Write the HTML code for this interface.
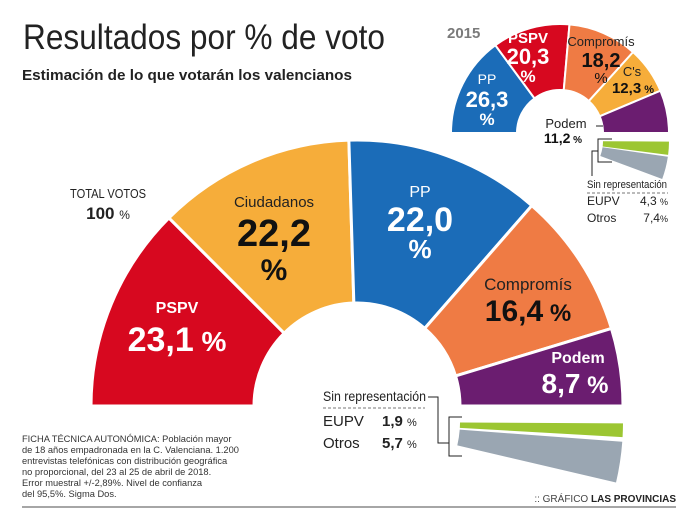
<!DOCTYPE html>
<html><head><meta charset="utf-8"><style>
html,body{margin:0;padding:0;background:#fff;width:679px;height:519px;overflow:hidden}
svg{display:block;font-family:"Liberation Sans",sans-serif}
</style></head><body>
<svg id="chart" width="679" height="519" viewBox="0 0 679 519">
<text x="23" y="49" font-size="35" fill="#222" textLength="362" lengthAdjust="spacingAndGlyphs">Resultados por % de voto</text>
<text x="22" y="80" font-size="15" font-weight="bold" fill="#222" textLength="330" lengthAdjust="spacingAndGlyphs">Estimación de lo que votarán los valencianos</text>
<g id="main"></g>
<g id="small"></g>
<g text-anchor="middle" fill="#222">
<text x="108" y="198" font-size="13" textLength="76" lengthAdjust="spacingAndGlyphs">TOTAL VOTOS</text>
<text x="108" y="219" font-size="17" font-weight="bold">100 <tspan font-size="12" font-weight="normal">%</tspan></text>
</g>
<g fill="#222" font-size="14">
<text x="323" y="401" textLength="103" lengthAdjust="spacingAndGlyphs">Sin representación</text>
<line x1="323" y1="408" x2="425" y2="408" stroke="#777" stroke-dasharray="3,2"/>
<text x="323" y="426" font-size="15">EUPV</text>
<text x="382" y="426" font-size="15" font-weight="bold">1,9 <tspan font-size="11" font-weight="normal">%</tspan></text>
<text x="323" y="448" font-size="15">Otros</text>
<text x="382" y="448" font-size="15" font-weight="bold">5,7 <tspan font-size="11" font-weight="normal">%</tspan></text>
<polyline points="428,397 438,397 438,443 449,443" fill="none" stroke="#222" stroke-width="1"/>
<polyline points="462,417 449,417 449,456 462,456" fill="none" stroke="#222" stroke-width="1"/>
</g>
<g fill="#222" font-size="11">
<text x="587" y="188" textLength="80" lengthAdjust="spacingAndGlyphs">Sin representación</text>
<line x1="587" y1="193" x2="668" y2="193" stroke="#777" stroke-dasharray="3,2"/>
<text x="587" y="205" font-size="12">EUPV</text>
<text x="668" y="205" font-size="12" text-anchor="end">4,3 <tspan font-size="9">%</tspan></text>
<text x="587" y="222" font-size="12">Otros</text>
<text x="668" y="222" font-size="12" text-anchor="end">7,4<tspan font-size="9">%</tspan></text>
<polyline points="592,176 592,151 598,151" fill="none" stroke="#222"/>
<polyline points="612,139 598,139 598,162 612,162" fill="none" stroke="#222"/>
<line x1="596" y1="126" x2="603" y2="126" stroke="#222"/>
</g>
<text x="447" y="38" font-size="15" font-weight="bold" fill="#7a7a7a">2015</text>
<g font-size="9.3" fill="#333">
<text x="22" y="442">FICHA TÉCNICA AUTONÓMICA: Población mayor</text>
<text x="22" y="453">de 18 años empadronada en la C. Valenciana. 1.200</text>
<text x="22" y="464">entrevistas telefónicas con distribución geográfica</text>
<text x="22" y="475">no proporcional, del 23 al 25 de abril de 2018.</text>
<text x="22" y="486">Error muestral +/-2,89%. Nivel de confianza</text>
<text x="22" y="497">del 95,5%. Sigma Dos.</text>
</g>
<text x="676" y="502" font-size="10" fill="#444" text-anchor="end">:: GRÁFICO <tspan font-weight="bold" fill="#222">LAS PROVINCIAS</tspan></text>
<line x1="22" y1="507" x2="676" y2="507" stroke="#888" stroke-width="1.5"/>
</svg>
<script>
const mainParties = ['PSPV','Ciudadanos','PP','Compromís','Podem'];
const mainValues = [23.1, 22.2, 22.0, 16.4, 8.7];
const mainColors = ['#d7081f','#f6ad3a','#1b6cb8','#ef7b44','#6b1d70'];
const mainRest = ['EUPV','Otros'];
const mainRestValues = [1.9, 5.7];
const smallParties = ['PP','PSPV','Compromís',"C's",'Podem'];
const smallValues = [26.3, 20.3, 18.2, 12.3, 11.2];
const smallColors = ['#1b6cb8','#d7081f','#ef7b44','#f6ad3a','#6b1d70'];
const smallRest = ['EUPV','Otros'];
const smallRestValues = [4.3, 7.4];

const NS='http://www.w3.org/2000/svg';
function arcPath(cx,cy,r0,r1,a0,a1,below){
  // angles in degrees; top: measured from left horizontal clockwise; below: from right horizontal downward
  const pt=(r,a)=>{const t=a*Math.PI/180;return below?[cx+r*Math.cos(t),cy+r*Math.sin(t)]:[cx-r*Math.cos(t),cy-r*Math.sin(t)];};
  const p1=pt(r1,a0),p2=pt(r1,a1),p3=pt(r0,a1),p4=pt(r0,a0);
  const sw1=below?1:1, sw0=below?0:0;
  return `M${p1[0]},${p1[1]} A${r1},${r1} 0 0 ${sw1} ${p2[0]},${p2[1]} L${p3[0]},${p3[1]} A${r0},${r0} 0 0 ${sw0} ${p4[0]},${p4[1]} Z`;
}
function drawDonut(gid,cx,cy,r0,r1,vals,cols,names,rest,restCols,dy,sw){
  const g=document.getElementById(gid);
  const total=vals.reduce((a,b)=>a+b,0);
  const k=180/total;
  let a=0;
  vals.forEach((v,i)=>{
    const p=document.createElementNS(NS,'path');
    p.setAttribute('d',arcPath(cx,cy,r0,r1,a,a+v*k,false));
    p.setAttribute('fill',cols[i]);p.setAttribute('stroke','#fff');p.setAttribute('stroke-width',sw);
    
    
    g.appendChild(p);a+=v*k;
  });
  let b=0.3;
  rest.forEach((v,i)=>{
    const p=document.createElementNS(NS,'path');
    p.setAttribute('d',arcPath(cx,cy+dy,r0,r1,b,b+v*k*0.8,true));
    p.setAttribute('fill',restCols[i]);
    
    
    g.appendChild(p);b+=v*k*0.8+1;
  });
}
drawDonut('main',357,406,103,266,mainValues,mainColors,mainParties,mainRestValues,['#9cc632','#9aa6b2'],16,3);
drawDonut('small',560,133,43,109,smallValues,smallColors,smallParties,smallRestValues,['#9cc632','#9aa6b2'],8,2);

function label(x,y,txt,size,fill,bold,name,pct,pctSize){
  const t=document.createElementNS(NS,'text');
  t.setAttribute('x',x);t.setAttribute('y',y);t.setAttribute('text-anchor','middle');
  t.setAttribute('font-size',size);t.setAttribute('fill',fill);
  if(bold)t.setAttribute('font-weight','bold');
  t.textContent=txt;
  if(pct){const s=document.createElementNS(NS,'tspan');s.setAttribute('font-size',pctSize);s.textContent=' %';t.appendChild(s);}
  
  
  document.getElementById('chart').appendChild(t);
}
const fmt=v=>v.toFixed(1).replace('.',',');
// main labels
label(177,313,'PSPV',16,'#fff',true,'label-pspv');
label(177,351,fmt(mainValues[0]),34,'#fff',true,'value-pspv',true,28);
label(274,207,'Ciudadanos',15,'#222',false,'label-ciudadanos');
label(274,246,fmt(mainValues[1]),38,'#111',true,'value-ciudadanos');
label(274,280,'%',30,'#111',true,'pct-ciudadanos');
label(420,197,'PP',16,'#fff',false,'label-pp');
label(420,231,fmt(mainValues[2]),34,'#fff',true,'value-pp');
label(420,258,'%',26,'#fff',true,'pct-pp');
label(528,290,'Compromís',17,'#222',false,'label-compromis');
label(528,321,fmt(mainValues[3]),30,'#111',true,'value-compromis',true,24);
label(578,363,'Podem',16,'#fff',true,'label-podem');
label(575,393,fmt(mainValues[4]),28,'#fff',true,'value-podem',true,24);
// small labels
label(528,43,'PSPV',15,'#fff',true,'label-2015-pspv');
label(528,64,fmt(smallValues[1]),22,'#fff',true,'value-2015-pspv');
label(528,82,'%',17,'#fff',true,'pct-2015-pspv');
label(487,84,'PP',14,'#fff',false,'label-2015-pp');
label(487,107,fmt(smallValues[0]),22,'#fff',true,'value-2015-pp');
label(487,125,'%',17,'#fff',true,'pct-2015-pp');
label(601,46,'Compromís',13,'#222',false,'label-2015-compromis');
label(601,67,fmt(smallValues[2]),20,'#111',true,'value-2015-compromis');
label(601,83,'%',15,'#111',false,'pct-2015-compromis');
label(632,76,"C's",13,'#222',false,'label-2015-cs');
label(633,93,fmt(smallValues[3]),15,'#111',true,'value-2015-cs',true,11);
label(566,128,'Podem',13,'#222',false,'label-2015-podem');
label(563,143,fmt(smallValues[4]),14,'#111',true,'value-2015-podem',true,10);
</script>
</body></html>
